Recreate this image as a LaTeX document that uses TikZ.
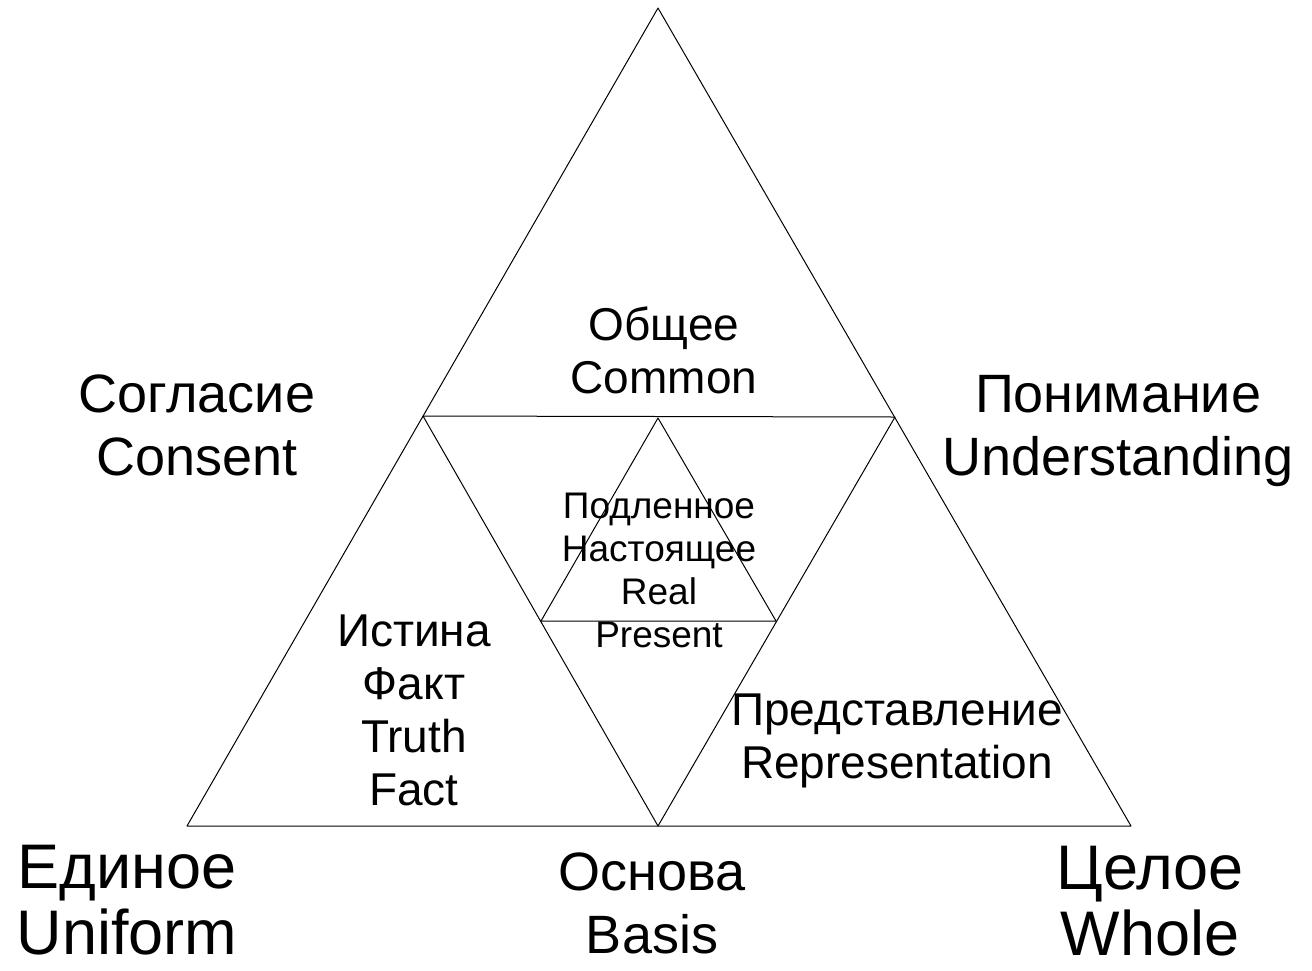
\documentclass[tikz,border=0pt]{standalone}
\usepackage{fontspec}
\setmainfont{Liberation Sans}
\begin{document}
\begin{tikzpicture}[yscale=-1, x=1pt, y=1pt, line join=round, line cap=round,
  edge/.style={draw=black, line width=1pt},
  lbl/.style={anchor=base, align=center, inner sep=0pt},
  huge lbl/.style={lbl, font=\fontsize{63}{66}\selectfont},
  big lbl/.style={lbl, font=\fontsize{54}{63}\selectfont},
  mid lbl/.style={lbl, font=\fontsize{46}{53}\selectfont},
  small lbl/.style={lbl, font=\fontsize{37}{43}\selectfont}]
\useasboundingbox (0,0) rectangle (1312,970);
% Corner points
\coordinate (apex) at (658,8);
\coordinate (baseL) at (187,826);
\coordinate (baseR) at (1131,826);
\coordinate (midL) at (423,416);
\coordinate (midR) at (895,417);
\coordinate (midB) at (658,826);
\coordinate (inT) at (658,418);
\coordinate (inL) at (541,621);
\coordinate (inR) at (776,621);
% Triangles
\draw[edge] (apex) -- (baseR) -- (baseL) -- cycle;
\draw[edge] (midL) -- (midR) -- (midB) -- cycle;
\draw[edge] (inT) -- (inR) -- (inL) -- cycle;
% Labels (placed at the baseline of the last line)
\node[mid lbl] (common) at (664,393) {Общее\\Common};
\node[big lbl] (consent) at (197,475) {Согласие\\Consent};
\node[big lbl] (underst) at (1118,475) {Понимание\\Understanding};
\node[mid lbl] (truth) at (414,805) {Истина\\Факт\\Truth\\Fact};
\node[small lbl] (real) at (659,647) {Подленное\\Настоящее\\Real\\Present};
\node[mid lbl] (repr) at (897,778) {Представление\\Representation};
\node[huge lbl] (uniform) at (127,954) {Единое\\Uniform};
\node[big lbl] (basis) at (652,953) {Основа\\Basis};
\node[huge lbl] (whole) at (1150,955) {Целое\\Whole};
\end{tikzpicture}
\end{document}
